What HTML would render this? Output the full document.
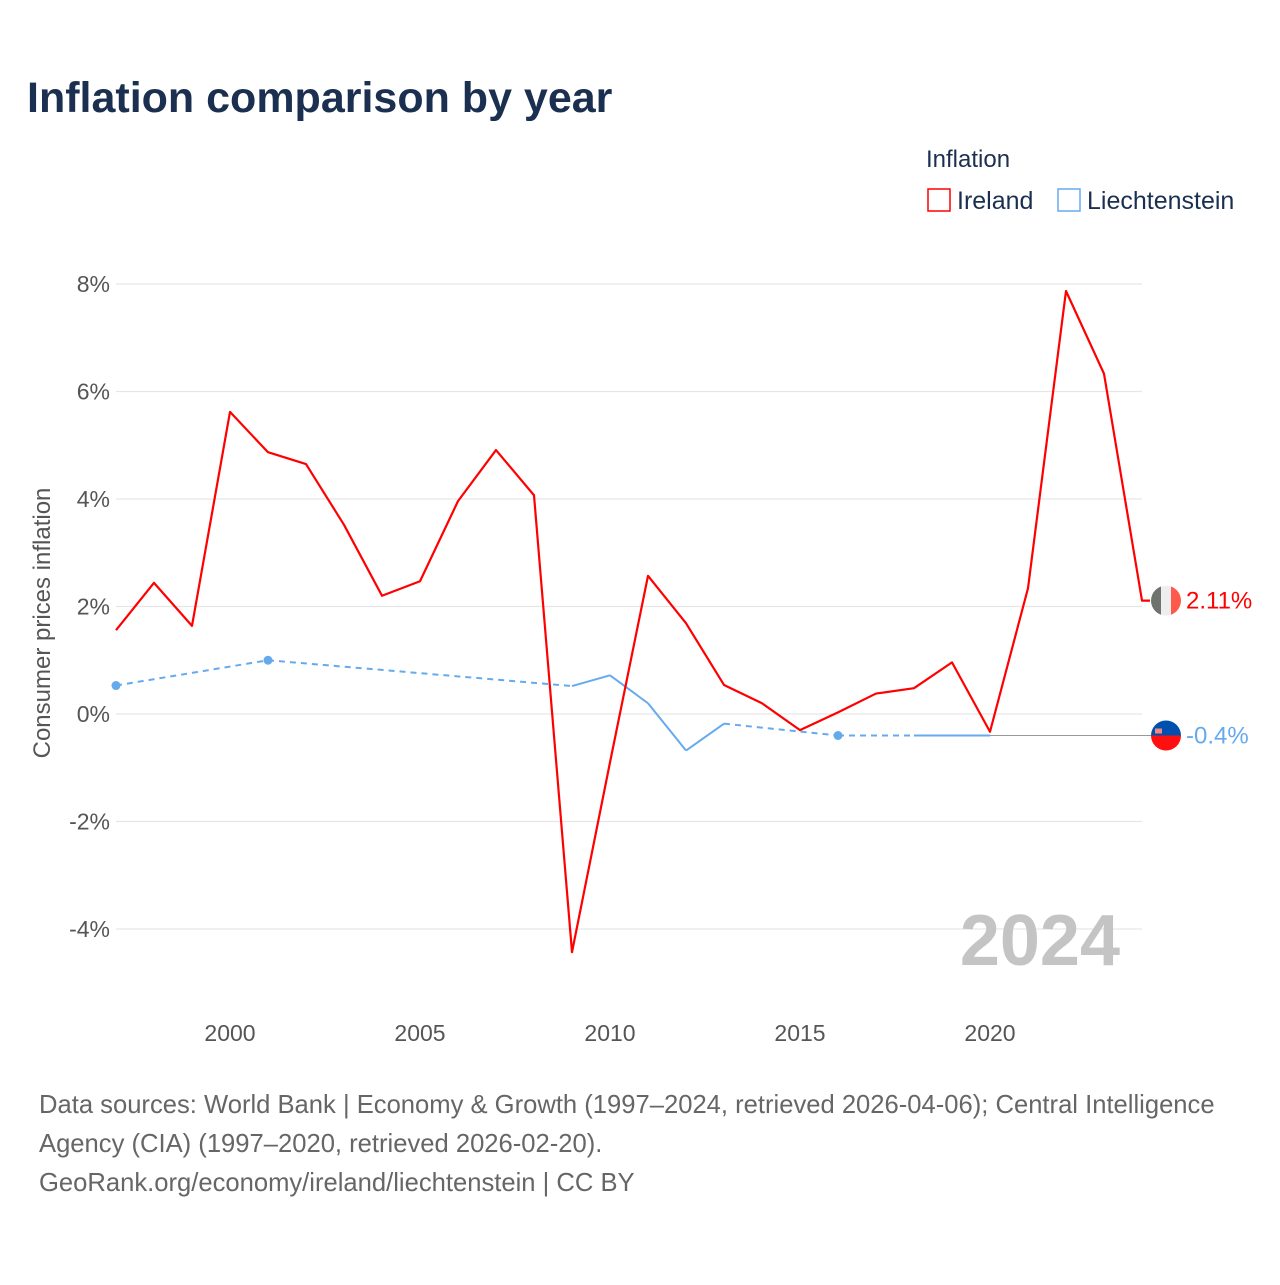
<!DOCTYPE html>
<html><head><meta charset="utf-8"><style>
body{margin:0;background:#fff;font-family:"Liberation Sans",sans-serif}
</style></head><body>
<svg id="chart" width="1280" height="1280" xmlns="http://www.w3.org/2000/svg" style="font-family:'Liberation Sans',sans-serif">
<text x="27" y="112" font-size="43" font-weight="bold" fill="#1b3050">Inflation comparison by year</text>
<g>
<text x="926" y="167" font-size="24" fill="#1b3050">Inflation</text>
<g><rect x="928" y="189" width="22" height="22" fill="none" stroke="#ff0000" stroke-width="1.5"/><text x="957" y="209" font-size="25" fill="#1b3050">Ireland</text></g>
<g><rect x="1058" y="189" width="22" height="22" fill="none" stroke="#66aaee" stroke-width="1.5"/><text x="1087" y="209" font-size="25" fill="#1b3050">Liechtenstein</text></g>
</g>
<g id="grid"></g><g id="axes"></g>
<text x="1120" y="965" font-size="72" font-weight="bold" fill="#c4c4c4" text-anchor="end">2024</text>
<text transform="translate(50,623) rotate(-90)" font-size="24" fill="#555" text-anchor="middle">Consumer prices inflation</text>
<g id="series"></g>
<g font-size="25.6" fill="#666">
<text x="39" y="1113">Data sources: World Bank | Economy &amp; Growth (1997–2024, retrieved 2026-04-06); Central Intelligence</text>
<text x="39" y="1152">Agency (CIA) (1997–2020, retrieved 2026-02-20).</text>
<text x="39" y="1191">GeoRank.org/economy/ireland/liechtenstein | CC BY</text>
</g>
</svg>
<script>
const years=[1997,1998,1999,2000,2001,2002,2003,2004,2005,2006,2007,2008,2009,2010,2011,2012,2013,2014,2015,2016,2017,2018,2019,2020,2021,2022,2023,2024];
const ireland=[1.56,2.44,1.64,5.62,4.87,4.65,3.52,2.2,2.47,3.96,4.91,4.07,-4.43,-0.9,2.57,1.69,0.54,0.2,-0.3,0.03,0.38,0.48,0.96,-0.33,2.34,7.87,6.33,2.11];
const liech=[0.53,null,null,null,1.0,null,null,null,null,null,null,null,0.52,0.72,0.2,-0.68,-0.18,null,null,-0.4,null,-0.4,-0.4,-0.4,null,null,null,null];
const yTicks=[8,6,4,2,0,-2,-4];
const xTicks=[2000,2005,2010,2015,2020];
const NS='http://www.w3.org/2000/svg';
const X=y=>116+(y-1997)*38;
const Y=v=>714-v*53.75;
function mk(t,a,p){const e=document.createElementNS(NS,t);for(const k in a)e.setAttribute(k,a[k]);p.appendChild(e);return e;}
const grid=document.getElementById('grid'),axes=document.getElementById('axes'),S=document.getElementById('series');
yTicks.forEach(v=>{
 const l=mk('line',{x1:116,x2:1142,y1:Y(v),y2:Y(v),stroke:'#e6e6e6','stroke-width':1.2},grid);
 
 
 const t=mk('text',{x:110,y:Y(v)+8,'font-size':23,fill:'#555','text-anchor':'end'},axes);
 t.textContent=v+'%';
 
 
});
xTicks.forEach(y=>{
 const t=mk('text',{x:X(y),y:1041,'font-size':23,fill:'#555','text-anchor':'middle'},axes);
 t.textContent=y;
 
 
});
const lp=[];years.forEach((y,i)=>{if(liech[i]!==null)lp.push(i);});
const last=lp[lp.length-1];
const ref=mk('line',{x1:X(years[last]),x2:1152,y1:Y(liech[last]),y2:Y(liech[last]),stroke:'#999','stroke-width':1},S);


for(let k=0;k<lp.length-1;k++){
 const a=lp[k],b=lp[k+1];
 const seg=mk('line',{x1:X(years[a]),y1:Y(liech[a]),x2:X(years[b]),y2:Y(liech[b]),stroke:'#66aaee','stroke-width':2,'stroke-dasharray':(b-a>1)?'6,5':'none'},S);
 
 
}
lp.forEach(i=>{
 const pr=liech[i-1],nx=liech[i+1];
 if((pr===null||pr===undefined)&&(nx===null||nx===undefined)){
  const c=mk('circle',{cx:X(years[i]),cy:Y(liech[i]),r:4.5,fill:'#66aaee'},S);
  
  
 }
});
const li=ireland.length-1;
const pts=ireland.map((v,i)=>X(years[i])+','+Y(v)).join(' ')+' '+(X(years[li])+8)+','+Y(ireland[li]);
const pl=mk('polyline',{points:pts,fill:'none',stroke:'#ff0000','stroke-width':2.2,'stroke-linejoin':'round'},S);


function flagIE(cy){
 const g=mk('g',{},S);
 
 
 const cp=mk('clipPath',{id:'cie'},g);mk('circle',{cx:1166,cy:cy,r:15},cp);
 const h=mk('g',{'clip-path':'url(#cie)'},g);
 mk('rect',{x:1151,y:cy-15,width:10,height:30,fill:'#6f736f'},h);
 mk('rect',{x:1161,y:cy-15,width:10,height:30,fill:'#eeeeee'},h);
 mk('rect',{x:1171,y:cy-15,width:10,height:30,fill:'#ff5a4c'},h);
 const t=mk('text',{x:1186,y:cy+8,'font-size':24,fill:'#ff0000'},S);
 t.textContent=ireland[li].toFixed(2)+'%';
 
 
}
function flagLI(cy){
 const g=mk('g',{},S);
 
 
 const cp=mk('clipPath',{id:'cli'},g);mk('circle',{cx:1166,cy:cy,r:15},cp);
 const h=mk('g',{'clip-path':'url(#cli)'},g);
 mk('rect',{x:1151,y:cy-15,width:30,height:15,fill:'#0050b0'},h);
 mk('rect',{x:1151,y:cy,width:30,height:15,fill:'#ff0f0f'},h);
 mk('rect',{x:1155,y:cy-7,width:7,height:5,fill:'#f08a7a'},h);
 const t=mk('text',{x:1186,y:cy+8,'font-size':24,fill:'#66aaee'},S);
 t.textContent=liech[last]+'%';
 
 
}
flagIE(Y(ireland[li]));
flagLI(Y(liech[last]));
</script>
</body></html>
